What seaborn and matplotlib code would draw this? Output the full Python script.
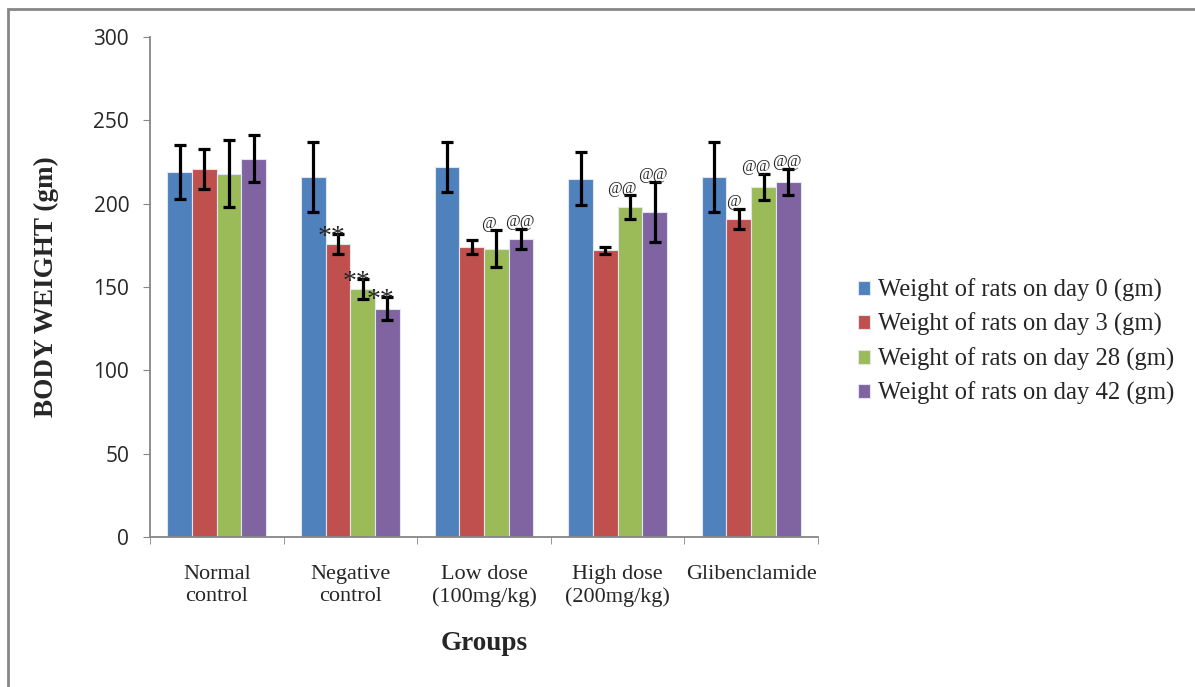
import matplotlib
matplotlib.use("Agg")
import matplotlib.pyplot as plt
import matplotlib.patches as mpatches
import seaborn as sns
import pandas as pd
import numpy as np

# data
grupos = ["Normal\ncontrol", "Negative\ncontrol", "Low dose\n(100mg/kg)", "High dose\n(200mg/kg)", "Glibenclamide"]
series = ["Weight of rats on day 0 (gm)", "Weight of rats on day 3 (gm)",
          "Weight of rats on day 28 (gm)", "Weight of rats on day 42 (gm)"]
dia0 = [219, 216, 222, 215, 216]
dia3 = [221, 176, 174, 172, 191]
dia28 = [218, 149, 173, 198, 210]
dia42 = [227, 137, 179, 195, 213]
err0 = [16, 21, 15, 16, 21]
err3 = [12, 6, 4, 2, 6]
err28 = [20, 6, 11, 7, 8]
err42 = [14, 7, 6, 18, 8]
marcas = [["", "", "", ""],
          ["", "**", "**", "**"],
          ["", "", "@", "@@"],
          ["", "", "@@", "@@"],
          ["", "@", "@@", "@@"]]
colores = ["#4F81BD", "#C0504D", "#9BBB59", "#8064A2"]

valores = [dia0, dia3, dia28, dia42]
errores = [err0, err3, err28, err42]

filas = []
for s, vals in zip(series, valores):
    for g, v in zip(grupos, vals):
        filas.append({"grupo": g, "serie": s, "peso": v})
df = pd.DataFrame(filas)

sns.set_style("white")
fig = plt.figure(figsize=(11.95, 6.87), dpi=100)
ax = fig.add_axes([0.1255, 0.2183, 0.559, 0.7278])

sns.barplot(data=df, x="grupo", y="peso", hue="serie", order=grupos, hue_order=series,
            palette=colores, width=0.74, errorbar=None, ax=ax, edgecolor="#dfe6ef",
            linewidth=0.8, saturation=1)

# desplazamiento horizontal de las marcas por serie
dx_marca = [0.0, -0.04, -0.06, -0.01]

# error bars and significance marks from the bar patches
contenedores = list(ax.containers)
for i, cont in enumerate(contenedores):
    for j, bar in enumerate(cont.patches):
        xc = bar.get_x() + bar.get_width() / 2
        h = bar.get_height()
        e = errores[i][j]
        ax.errorbar(xc, h, yerr=e, color="black", elinewidth=2.3, capsize=4.5,
                    capthick=2.3, fmt="none", zorder=5)
        m = marcas[j][i]
        if m:
            if m.startswith("*"):
                ax.text(xc - 0.05, h + e - 2, m, ha="center", va="center",
                        fontsize=20, family="Liberation Serif", zorder=6)
            else:
                ax.text(xc + dx_marca[i], h + e + 4, m, ha="center", va="center",
                        fontsize=11.5, family="Liberation Serif", zorder=6)

ax.set_ylim(0, 300)
ax.set_xlim(-0.5, 4.5)
ax.set_yticks([0, 50, 100, 150, 200, 250, 300])
ax.tick_params(axis="y", which="major", left=True, length=5, color="#868686",
               labelsize=15, pad=10)
for t in ax.get_yticklabels():
    t.set_family("Open Sans")
ax.set_xticks(range(len(grupos)))
ax.set_xticklabels(grupos, family="Liberation Serif", fontsize=16, linespacing=1.25)
ax.tick_params(axis="x", which="major", length=0, pad=20)
ax.set_xticks(np.arange(-0.5, 5, 1), minor=True)
ax.tick_params(axis="x", which="minor", bottom=True, length=5, color="#868686")

for lado in ["top", "right"]:
    ax.spines[lado].set_visible(False)
for lado in ["left", "bottom"]:
    ax.spines[lado].set_color("#868686")
    ax.spines[lado].set_linewidth(1.3)

ax.set_xlabel("Groups", family="Liberation Serif", fontsize=19.5, fontweight="bold", labelpad=17)
ax.set_ylabel("BODY WEIGHT (gm)", family="Liberation Serif", fontsize=19.5, fontweight="bold", labelpad=25)

ax.legend(loc="center left", bbox_to_anchor=(858 / 1195, 1 - 342 / 687),
          bbox_transform=fig.transFigure, frameon=False, borderpad=0, borderaxespad=0,
          prop={"family": "Liberation Serif", "size": 17.7}, handlelength=0.5,
          handleheight=0.5, handletextpad=0.3, labelspacing=0.45)

fig.patches.append(mpatches.Rectangle((8 / 1195, -0.1), 1.2, 1.1 - 9 / 687,
                                      transform=fig.transFigure, fill=False,
                                      edgecolor="#868686", linewidth=2))

fig.savefig("out.png", dpi=100)
